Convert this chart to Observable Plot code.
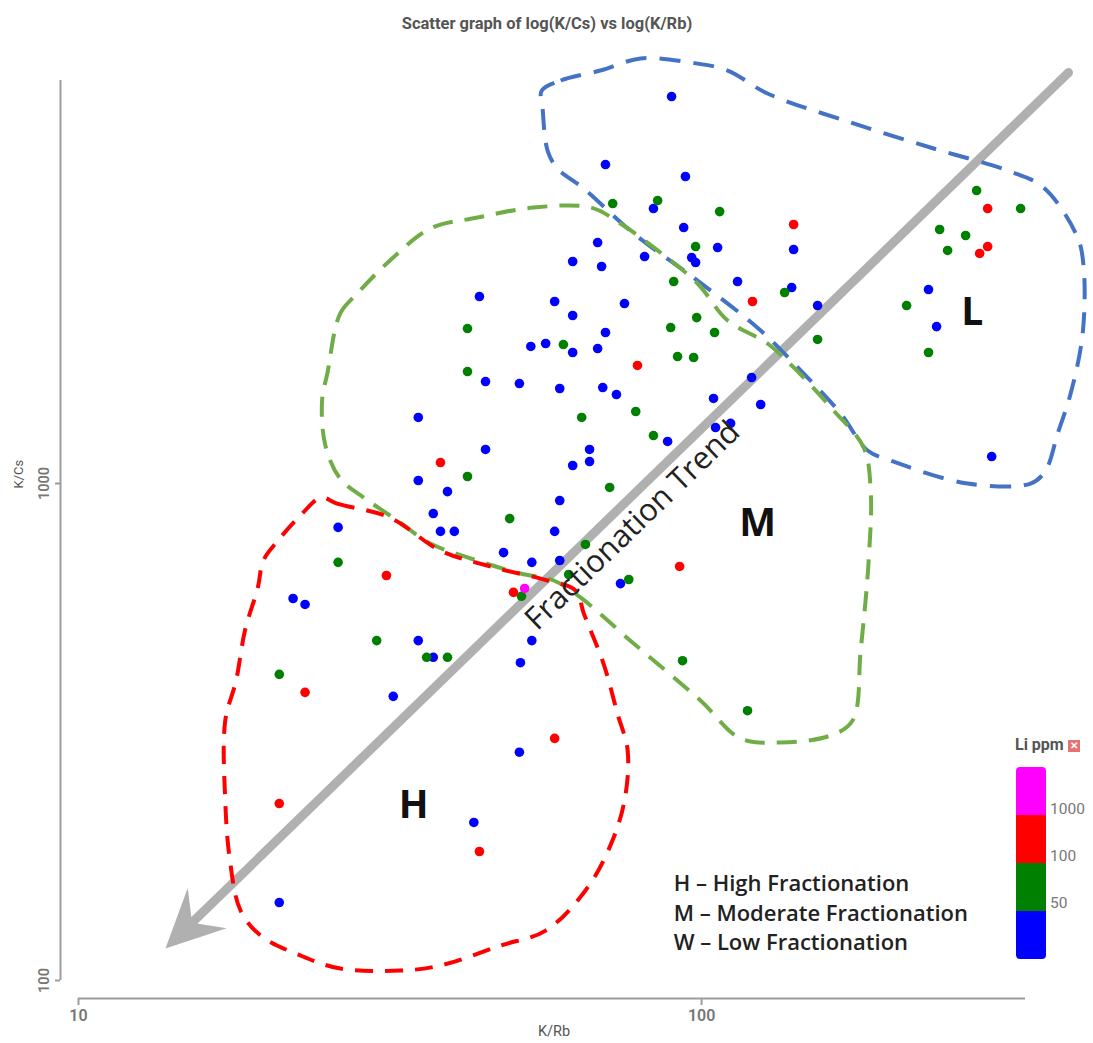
<!DOCTYPE html>
<html>
<head>
<meta charset="utf-8">
<script src="https://cdn.jsdelivr.net/npm/d3@7"></script>
<script src="https://cdn.jsdelivr.net/npm/@observablehq/plot@0.6"></script>
<style>
  body { margin: 0; background: #fff; }
  #wrap { position: relative; width: 1093px; height: 1043px; overflow: hidden; }
  #wrap svg { position: absolute; left: 0; top: 0; }
  .lg { position: absolute; font-family: Roboto, sans-serif; }
</style>
</head>
<body>
<div id="wrap"></div>
<script>
// ---------------- data ----------------
// Li classes and colours
const liClasses = ["< 50", "50–100", "100–1000", "> 1000"];
const liColors  = ["#0000ff", "#008000", "#ff0000", "#ff00ff"];
const liLegendTicks = ["1000", "100", "50"];

// Li < 50 ppm (blue)
const blueKRb = [89.5,70.1,94.2,83.7,93.6,68.1,81.0,96.4,97.8,62.1,
  69.1,106.1,140.5,114.2,139.5,153.5,44.0,58.1,75.2,62.1,
  70.1,53.2,56.2,62.1,68.1,45.0,51.0,59.2,69.4,73.0,
  120.3,104.5,124.4,88.2,105.3,111.3,35.1,45.0,66.1,66.1,
  62.1,35.1,39.1,59.2,37.1,38.1,40.1,58.1,26.1,48.1,
  53.4,59.2,74.1,22.1,23.1,35.1,37.1,53.4,51.2,32.0,
  51.0,43.1,21.0,231.3,238.3,292.1];
const blueKCs = [6007,4383,4147,3575,3274,3054,2862,2849,2784,2797,
  2733,2984,2957,2549,2479,2281,2378,2324,2302,2178,
  2013,1887,1913,1835,1869,1604,1589,1553,1560,1510,
  1634,1483,1442,1215,1296,1321,1358,1171,1171,1107,
  1087,1014,963,924,870,801,801,801,816,726,
  694,700,629,587,571,483,447,483,436,373,
  288,208,143.5,2456,2069,1133];

// Li 50–100 ppm (green)
const greenKRb = [72.0,85.0,106.9,97.8,90.2,135.9,98.2,89.2,104.9,153.5,
  91.5,97.1,42.1,60.0,42.1,64.2,78.4,83.7,42.1,71.2,
  49.2,65.1,61.2,76.4,51.4,26.1,30.1,36.2,39.1,21.0,
  93.2,118.5,276.3,325.1,241.0,265.3,248.2,213.3,231.3];
const greenKCs = [3659,3710,3525,2998,2549,2423,2157,2060,2013,1949,
  1801,1793,2050,1904,1680,1358,1396,1249,1033,982,
  850,754,656,641,593,694,483,447,447,413,
  440,349,3886,3575,3244,3155,2944,2281,1835];

// Li 100–1000 ppm (red)
const redKRb = [140.5,120.7,78.9,38.1,31.2,92.2,49.9,23.1,58.1,21.0,44.0,287.8,287.8,279.4];
const redKCs = [3320,2324,1728,1102,653,681,604,380,307,227,181.8,3575,2998,2903];

// Li > 1000 ppm (magenta)
const magentaKRb = [52.0];
const magentaKCs = [615];

// Fractionation fields (dashed outlines)
const hullLKRb = [55.4,59.4,68.8,79.8,96.0,110.1,127.6,173.5,235.7,309.9,353.9,401.2,410.4,408.8,391.1,372.8,356.5,337.3,267.3,201.1,184.7,167.2,144.2,124.4,98.5,77.8,64.7,58.7,56.6,55.6];
const hullLKCs = [6177,6470,6776,7164,7032,6776,6091,5326,4721,4263,3940,3127,2720,1999,1517,1260,1062,1000,1000,1112,1165,1383,1688,2032,2561,3184,3921,4303,4677,5630];
const hullMKRb = [25.1,26.3,28.0,32.0,36.7,43.7,53.7,66.4,74.1,85.0,98.5,110.1,127.6,140.5,162.9,182.0,186.8,185.4,180.0,174.7,161.1,133.9,115.5,99.6,77.8,63.9,57.9,51.2,42.1,36.7,32.5,28.7,26.3,24.9,24.6];
const hullMKCs = [1672,2198,2411,2849,3259,3429,3591,3591,3335,2944,2526,2128,1913,1712,1402,1182,968,700,461,333.5,311.2,301.2,307,365.9,476.5,589.8,638,659,710,757,842,937,1023,1193,1469];
const hullHKRb = [24.5,26.0,31.6,38.1,46.4,56.6,62.8,64.7,69.6,73.3,76.1,75.2,71.4,65.1,56.2,47.6,38.1,32.9,26.3,22.7,19.6,18.2,17.5,17.2,17.2,17.9,18.5,19.4,19.8,20.9,22.7];
const hullHKCs = [937,911,854,733,678,638,609,548,434,344,290,230,187,151.7,126,117.6,107.2,104.7,105.7,112.3,123.2,138.3,174.4,230,333.5,401,506,617.5,700,768,862];

// Trend arrow (start, tip)
const trendKRb = [388.1, 13.79];
const trendKCs = [6714, 116.0];

// Zone labels
const zoneLabels = ["L", "M", "H"];
const zoneKRb = [272, 123, 34.5];
const zoneKCs = [2208, 831, 225];

const trendLabel = "Fractionation Trend";
const trendLabelKRb = 77.5, trendLabelKCs = 823;

const keyLines = ["H – High Fractionation", "M – Moderate Fractionation", "W – Low Fractionation"];
const keyKRb = 90.2, keyKCs = 137.8;

const xTicks = [10, 100];
const yTicks = [100, 1000];
const xDomain = [10, 331];
const yDomain = [100, 6470];

const title = "Scatter graph of log(K/Cs) vs log(K/Rb)";
const xLabel = "K/Rb";
const yLabel = "K/Cs";

// ---------------- build tables ----------------
const points = [];
[[blueKRb, blueKCs, 0], [greenKRb, greenKCs, 1], [redKRb, redKCs, 2], [magentaKRb, magentaKCs, 3]]
  .forEach(([xs, ys, k]) => xs.forEach((x, i) => points.push({krb: x, kcs: ys[i], li: liClasses[k]})));

const hull = (xs, ys) => xs.map((x, i) => ({krb: x, kcs: ys[i]}));
const hulls = [
  {pts: hull(hullLKRb, hullLKCs), color: "#4472c4", dash: "21,13"},
  {pts: hull(hullMKRb, hullMKCs), color: "#70ad47", dash: "20,12"},
  {pts: hull(hullHKRb, hullHKCs), color: "#ff0000", dash: "18,12"}
];

const zones = zoneLabels.map((t, i) => ({t, krb: zoneKRb[i], kcs: zoneKCs[i]}));

// filled "stealth" arrow head, pointing up, tip at origin
const stealth = {
  draw(context, size) {
    const s = Math.sqrt(size / Math.PI) / 10;
    context.moveTo(0, 0);
    context.lineTo(28 * s, 58 * s);
    context.lineTo(0, 37 * s);
    context.lineTo(-28 * s, 58 * s);
    context.closePath();
  }
};

const gray = "#b0b0b0";
const axisGray = "#9c9c9c";

const chart = Plot.plot({
  width: 1093,
  height: 1043,
  marginLeft: 78,
  marginRight: 68,
  marginTop: 80,
  marginBottom: 63,
  x: {type: "log", domain: xDomain},
  y: {type: "log", domain: yDomain},
  color: {domain: liClasses, range: liColors},
  style: {fontFamily: "Roboto, sans-serif", background: "white", overflow: "visible"},
  marks: [
    // axes
    Plot.ruleX([xDomain[0]], {y1: yDomain[0], y2: yDomain[1], dx: -18, stroke: axisGray, strokeWidth: 2}),
    Plot.ruleY([yDomain[0]], {x1: xDomain[0], x2: xDomain[1], dy: 18, stroke: axisGray, strokeWidth: 2}),
    Plot.axisY({ticks: yTicks, tickFormat: d => String(d), tickSize: 5, tickPadding: 7, tickRotate: -90,
      dx: -18, stroke: axisGray, strokeWidth: 2, fill: "#777", fontSize: 14.5, fontWeight: 600, label: null}),
    Plot.axisX({ticks: xTicks, tickFormat: d => String(d), tickSize: 7, tickPadding: 4,
      dy: 18, stroke: axisGray, strokeWidth: 2, fill: "#777", fontSize: 16, fontWeight: 600, label: null}),
    Plot.text([yLabel], {text: d => d, frameAnchor: "left", dx: -60, dy: -42, rotate: -90,
      fontSize: 13, fill: "#555"}),
    Plot.text([xLabel], {text: d => d, frameAnchor: "bottom", dx: 2, dy: 55, fontSize: 14.5, fill: "#555"}),
    Plot.text([title], {text: d => d, frameAnchor: "top", dx: -5, dy: -63, fontSize: 16.5, fontWeight: 700,
      fill: "#555"}),

    // trend arrow
    Plot.arrow([0], {x1: () => trendKRb[0], y1: () => trendKCs[0], x2: () => trendKRb[1], y2: () => trendKCs[1],
      stroke: gray, strokeWidth: 9, headLength: 0, insetEnd: 30, strokeLinecap: "round"}),
    Plot.dot([0], {x: () => trendKRb[1], y: () => trendKCs[1], symbol: stealth, r: 10, rotate: -134,
      fill: gray, stroke: "none"}),

    // fields
    ...hulls.map(h => Plot.line(h.pts, {x: "krb", y: "kcs", curve: "catmull-rom-closed",
      stroke: h.color, strokeWidth: 4, strokeDasharray: h.dash, strokeLinecap: "butt"})),

    // points
    Plot.dot(points, {x: "krb", y: "kcs", fill: "li", r: 4.8, stroke: "none"}),

    // labels
    Plot.text(zones, {x: "krb", y: "kcs", text: "t", fontSize: 39, fontWeight: 700, fill: "#111",
      fontFamily: "Open Sans, sans-serif"}),
    Plot.text([trendLabel], {x: () => trendLabelKRb, y: () => trendLabelKCs, text: d => d, rotate: -44,
      fontSize: 31, fill: "#222", fontFamily: "Open Sans, sans-serif"}),
    Plot.text([keyLines.join("\n")], {x: () => keyKRb, y: () => keyKCs, text: d => d, textAnchor: "start",
      lineHeight: 1.33, fontSize: 22, fontWeight: 600, fill: "#222", fontFamily: "Open Sans, sans-serif"})
  ]
});

const wrap = document.getElementById("wrap");
wrap.appendChild(chart);

// ---------------- Li ppm legend ----------------
const lgTitle = document.createElement("div");
lgTitle.className = "lg";
lgTitle.style.cssText = "left:1015px;top:735px;font-size:16px;font-weight:700;color:#555;white-space:nowrap;";
lgTitle.innerHTML = 'Li ppm <span style="display:inline-block;width:12px;height:12px;background:#e57373;color:#fff;font-size:10px;line-height:12px;text-align:center;vertical-align:1px;">✕</span>';
wrap.appendChild(lgTitle);

const bar = document.createElement("div");
bar.className = "lg";
bar.style.cssText = "left:1016px;top:767px;width:30px;height:192px;border-radius:4px;overflow:hidden;";
liColors.slice().reverse().forEach(c => {
  const seg = document.createElement("div");
  seg.style.cssText = `height:48px;background:${c};`;
  bar.appendChild(seg);
});
wrap.appendChild(bar);

liLegendTicks.forEach((t, i) => {
  const lab = document.createElement("div");
  lab.className = "lg";
  lab.style.cssText = `left:1050px;top:${800 + i * 47}px;font-size:15.5px;color:#777;`;
  lab.textContent = t;
  wrap.appendChild(lab);
});
</script>
</body>
</html>
